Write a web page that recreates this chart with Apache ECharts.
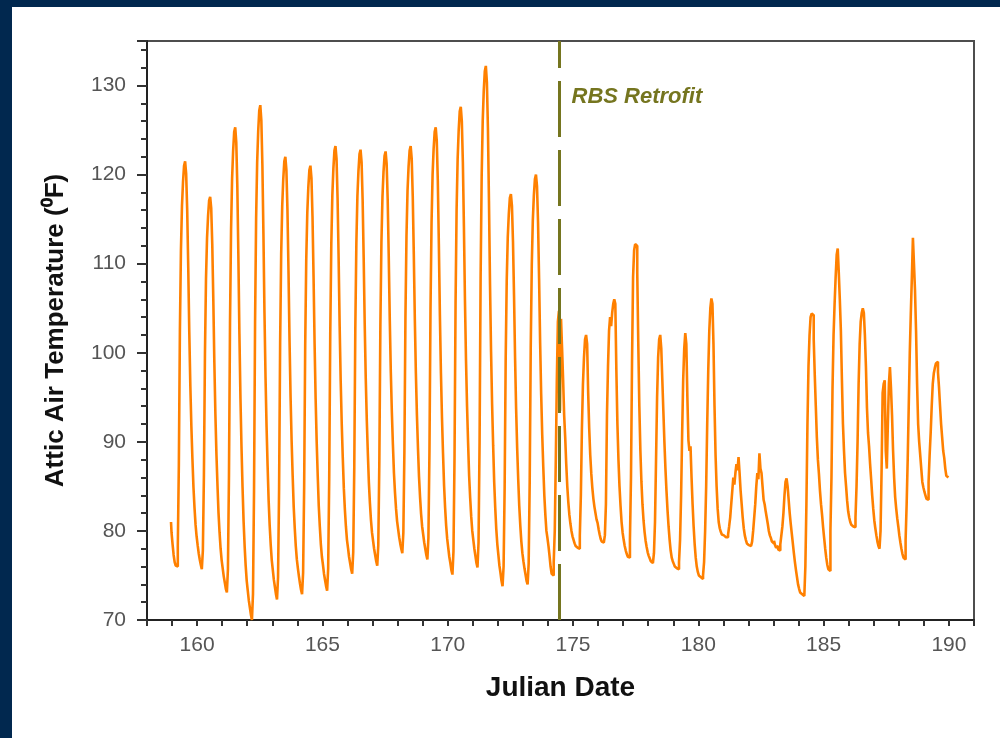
<!DOCTYPE html>
<html><head><meta charset="utf-8">
<script src="https://cdn.jsdelivr.net/npm/echarts@6/dist/echarts.min.js"></script>
<style>
html,body{margin:0;padding:0;background:#01284f;width:1000px;height:738px;overflow:hidden}
#frame{position:absolute;left:12px;top:7px;width:988px;height:731px;background:#fff}
#chart{width:988px;height:731px}
</style></head><body>
<div id="frame"><div id="chart"></div></div>
<script>
// Hourly attic air temperature (F), one array per Julian day, hour 0..23
const d158 = [null,null,null,null,null,null,null,null,null,null,null,null,null,null,null,null,null,null,null,null,null,null,null,81.0];
const d159 = [79.8,78.5,77.3,76.5,76.1,76.0,78.3,87.4,102.4,111.5,116.5,119.2,121.0,121.5,120.1,116.0,109.6,102.3,96.3,91.7,88.1,84.9,82.6,80.7];
const d160 = [79.4,78.4,77.5,76.8,76.2,75.7,77.8,86.2,99.9,108.3,112.9,115.4,117.1,117.5,116.2,112.2,106.0,98.9,93.1,88.6,85.1,82.0,79.8,78.0];
const d161 = [76.7,75.8,74.9,74.2,73.5,73.1,75.7,86.2,103.4,113.8,119.6,122.7,124.8,125.3,123.6,118.7,110.9,102.1,94.9,89.4,84.9,81.1,78.3,76.1];
const d162 = [74.4,73.3,72.2,71.4,70.6,70.0,72.9,84.5,103.5,115.1,121.4,124.9,127.2,127.8,126.1,121.1,113.4,104.5,97.3,91.7,87.3,83.4,80.6,78.4];
const d163 = [76.7,75.6,74.5,73.7,72.9,72.3,74.8,84.7,101.1,111.1,116.5,119.5,121.5,122.0,120.5,116.1,109.2,101.4,95.0,90.1,86.2,82.7,80.3,78.3];
const d164 = [76.8,75.8,74.9,74.1,73.4,72.9,75.3,84.9,100.8,110.4,115.7,118.6,120.5,121.0,119.6,115.3,108.6,101.0,94.8,90.0,86.2,82.8,80.5,78.5];
const d165 = [77.1,76.2,75.2,74.5,73.8,73.3,75.8,85.8,102.2,112.2,117.7,120.7,122.7,123.2,121.8,117.4,110.7,103.0,96.8,92.0,88.2,84.8,82.4,80.5];
const d166 = [79.0,78.1,77.1,76.4,75.7,75.2,77.6,87.1,102.8,112.3,117.6,120.4,122.3,122.8,121.4,117.2,110.7,103.2,97.1,92.4,88.7,85.4,83.1,81.2];
const d167 = [79.8,78.9,78.0,77.3,76.6,76.1,78.4,87.7,103.1,112.4,117.5,120.3,122.1,122.6,121.2,117.2,110.9,103.7,97.8,93.3,89.7,86.5,84.3,82.5];
const d168 = [81.1,80.2,79.3,78.6,78.0,77.5,79.8,88.9,104.0,113.1,118.2,120.9,122.7,123.2,121.8,117.6,111.1,103.7,97.7,93.0,89.3,86.1,83.8,81.9];
const d169 = [80.5,79.6,78.7,78.0,77.3,76.8,79.2,88.9,104.9,114.6,120.0,122.9,124.8,125.3,123.8,119.3,112.2,104.2,97.7,92.7,88.7,85.1,82.6,80.6];
const d170 = [79.1,78.1,77.1,76.4,75.6,75.1,77.7,88.2,105.6,116.1,121.8,125.0,127.1,127.6,126.0,121.4,114.2,105.9,99.2,94.0,89.9,86.2,83.7,81.6];
const d171 = [80.0,79.0,78.0,77.2,76.4,75.9,78.7,90.0,108.6,119.8,126.0,129.4,131.6,132.2,130.4,125.2,117.0,107.7,100.1,94.2,89.6,85.5,82.6,80.2];
const d172 = [78.5,77.3,76.1,75.3,74.4,73.8,76.0,84.8,99.3,108.1,113.0,115.6,117.4,117.8,116.5,112.5,106.4,99.4,93.7,89.3,85.8,82.8,80.6,78.8];
const d173 = [77.5,76.6,75.8,75.1,74.4,74.0,76.3,85.5,100.7,109.9,114.9,117.7,119.5,120.0,118.7,114.6,108.3,101.1,95.3,90.8,87.2,84.0,81.8,80.0];
const d174 = [79.2,78.3,77.2,76.0,75.2,75.0,76.5,80.0,88.0,97.0,103.5,104.7,93.5,103.8,100.5,97.0,93.0,90.5,87.5,85.0,83.2,81.8,80.8,80.0];
const d175 = [79.4,79.0,78.6,78.3,78.1,78.0,78.0,79.5,84.0,91.5,96.5,99.5,101.5,102.0,101.0,95.5,91.5,88.5,86.4,84.8,83.6,82.7,82.0,81.3];
const d176 = [80.9,80.2,79.6,79.1,78.8,78.7,78.7,79.5,83.0,93.0,98.5,102.5,104.0,103.0,104.5,105.5,106.0,105.5,98.0,92.0,88.0,85.0,82.8,81.0];
const d177 = [79.8,79.0,78.3,77.8,77.4,77.1,77.0,79.0,86.0,99.0,108.5,111.5,112.2,112.0,109.0,101.0,94.0,89.0,85.5,83.0,81.2,79.9,78.9,78.2];
const d178 = [77.6,77.2,76.9,76.6,76.4,76.3,77.5,81.0,88.0,95.0,99.5,101.5,102.0,100.5,97.0,93.5,90.0,87.0,84.5,82.3,80.5,79.0,77.8,77.0];
const d179 = [76.6,76.3,76.0,75.8,75.7,75.7,76.5,79.0,84.0,91.0,97.0,100.5,102.2,101.0,95.0,90.2,89.0,89.5,86.0,83.0,80.5,78.5,77.0,76.0];
const d180 = [75.4,75.0,74.8,74.6,74.6,75.0,76.5,80.0,85.0,92.0,98.0,102.5,105.0,106.1,105.5,101.0,94.0,88.5,85.0,82.5,81.0,80.3,79.9,79.6];
const d181 = [79.5,79.4,79.3,79.3,79.3,79.6,80.5,81.5,83.0,84.5,86.0,85.2,86.5,87.5,86.8,88.3,86.5,84.5,83.0,81.5,80.3,79.5,79.0,78.6];
const d182 = [78.4,78.3,78.3,78.3,78.8,80.0,81.5,83.0,85.0,86.5,85.8,88.7,87.0,86.5,85.0,83.5,83.0,82.2,81.5,80.8,80.0,79.5,79.2,78.8];
const d183 = [78.6,78.9,78.4,78.1,78.3,77.9,77.8,78.5,79.5,80.5,82.0,84.0,85.5,85.9,85.0,83.5,82.0,80.8,79.7,78.6,77.5,76.5,75.6,74.8];
const d184 = [74.0,73.5,73.1,72.9,72.8,72.7,72.8,76.0,83.0,92.0,98.5,102.0,104.0,104.4,104.2,101.5,97.5,94.0,90.5,88.0,86.4,84.5,83.0,81.8];
const d185 = [80.4,79.2,78.0,77.0,76.2,75.7,75.5,80.0,86.0,96.0,102.0,105.5,108.5,111.0,111.7,109.0,106.0,102.5,97.0,92.0,89.0,86.5,85.0,83.4];
const d186 = [82.2,81.5,81.0,80.7,80.5,80.4,80.4,81.5,85.0,90.0,96.5,101.0,103.5,104.5,105.0,104.5,102.0,98.5,93.8,91.0,89.5,87.5,85.8,84.0];
const d187 = [82.5,81.2,80.3,79.5,78.8,78.3,78.0,80.0,86.8,95.5,96.5,96.9,89.0,87.0,92.0,96.5,98.4,96.0,93.0,89.0,86.0,83.8,82.5,81.4];
const d188 = [80.5,79.5,78.7,78.0,77.4,77.0,76.8,79.0,83.0,88.0,94.0,100.0,104.5,108.5,112.9,110.0,107.0,102.5,96.5,92.0,90.0,88.5,87.0,85.5];
const d189 = [84.9,84.4,84.0,83.6,83.5,85.5,88.5,91.0,94.0,96.5,97.7,98.3,98.8,99.0,97.8,96.1,94.0,92.0,90.5,89.0,88.2,87.0,86.2,86.0];
const d190 = [86.0];

const julianDays = [158,159,160,161,162,163,164,165,166,167,168,169,170,171,172,173,174,175,176,177,178,179,180,181,182,183,184,185,186,187,188,189,190];
const dayValues = [d158,d159,d160,d161,d162,d163,d164,d165,d166,d167,d168,d169,d170,d171,d172,d173,d174,d175,d176,d177,d178,d179,d180,d181,d182,d183,d184,d185,d186,d187,d188,d189,d190];

const retrofitDay = 174.44;
const retrofitLabel = 'RBS Retrofit';
const retrofitLabelTemp = 128.7;

const xTitle = 'Julian Date';
const yTitle = 'Attic Air Temperature (\u2070F)';

const points = [];
julianDays.forEach((d, i) => {
  dayValues[i].forEach((v, h) => { if (v !== null) points.push([d + h / 24, v]); });
});

const FONT = "'Liberation Sans', Arial, sans-serif";
const chart = echarts.init(document.getElementById('chart'), null, {renderer: 'canvas'});
chart.setOption({
  animation: false,
  backgroundColor: '#ffffff',
  textStyle: {fontFamily: FONT},
  grid: {left: 135, top: 34, right: 26, bottom: 118, show: true, borderColor: '#4d4d4d', borderWidth: 2},
  xAxis: {
    type: 'value', min: 158, max: 191, interval: 1,
    axisLine: {show: true, lineStyle: {color: '#222', width: 2}},
    axisTick: {show: true, length: 6, lineStyle: {color: '#333', width: 2}},
    axisLabel: {formatter: v => (v % 5 === 0 ? String(v) : ''), color: '#555', fontSize: 21, margin: 15, fontFamily: FONT},
    splitLine: {show: false},
    name: xTitle, nameLocation: 'middle', nameGap: 54,
    nameTextStyle: {fontWeight: 'bold', fontSize: 28, color: '#111', fontFamily: FONT}
  },
  yAxis: {
    type: 'value', min: 70, max: 135, interval: 10,
    axisLine: {show: true, lineStyle: {color: '#222', width: 2}},
    axisTick: {show: true, length: 10, lineStyle: {color: '#333', width: 2}},
    minorTick: {show: true, splitNumber: 5, length: 6, lineStyle: {color: '#333', width: 2}},
    axisLabel: {formatter: v => (v % 10 === 0 ? String(v) : ''), color: '#555', fontSize: 21, margin: 21, fontFamily: FONT},
    splitLine: {show: false},
    name: yTitle, nameLocation: 'middle', nameGap: 78,
    nameTextStyle: {fontWeight: 'bold', fontSize: 26, color: '#111', fontFamily: FONT}
  },
  series: [{
    type: 'line',
    data: points,
    step: 'middle',
    showSymbol: false,
    lineStyle: {color: '#ff8000', width: 2.6},
    itemStyle: {color: '#ff8000'},
    markLine: {
      silent: true, symbol: 'none', label: {show: false},
      lineStyle: {color: '#75751f', width: 3, type: [56, 13]},
      data: [{xAxis: retrofitDay}]
    },
    markPoint: {
      silent: true, symbol: 'circle', symbolSize: 1,
      itemStyle: {color: 'rgba(0,0,0,0)'},
      label: {show: true, position: 'right', distance: 12, formatter: retrofitLabel,
        color: '#75751f', fontStyle: 'italic', fontWeight: 'bold', fontSize: 22, fontFamily: FONT},
      data: [{coord: [retrofitDay, retrofitLabelTemp]}]
    }
  }]
});
</script></body></html>
